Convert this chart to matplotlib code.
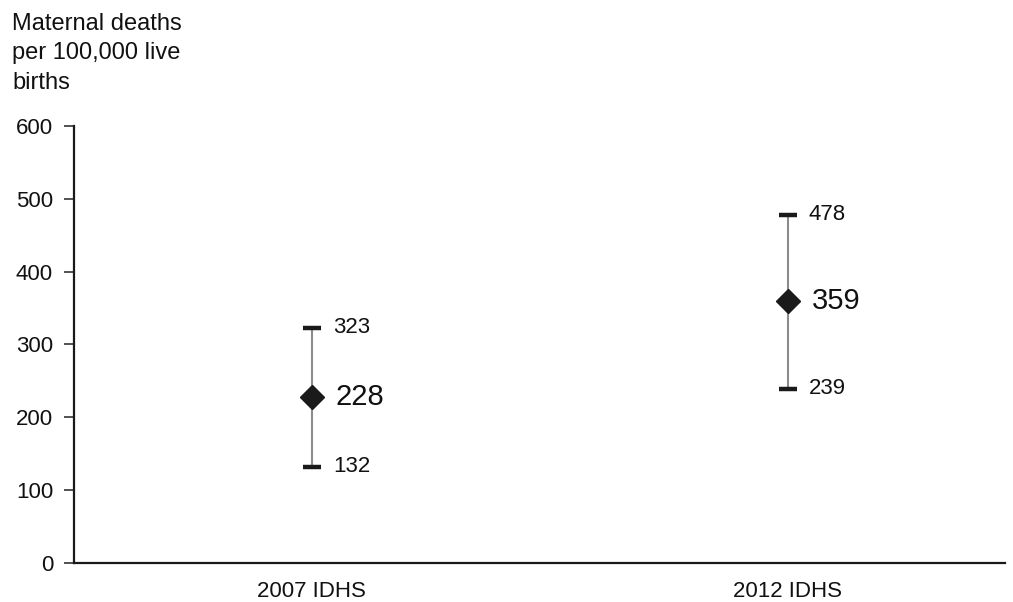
import matplotlib
matplotlib.use("Agg")
import matplotlib.pyplot as plt

plt.rcParams['font.family'] = ['Liberation Sans', 'DejaVu Sans']

surveys = ["2007 IDHS", "2012 IDHS"]
mmr = [228, 359]
lower = [132, 239]
upper = [323, 478]
yticks = [0, 100, 200, 300, 400, 500, 600]

fig = plt.figure(figsize=(10.13, 6.02), dpi=100)
ax = fig.add_axes([0.073, 0.065, 0.919, 0.726])

x = list(range(len(surveys)))
for xi, m, lo, hi in zip(x, mmr, lower, upper):
    ax.plot([xi, xi], [lo, hi], color="#8c8c8c", lw=1.5, zorder=1)
    ax.plot([xi - 0.019, xi + 0.019], [hi, hi], color="#1a1a1a", lw=3.2, solid_capstyle="butt", zorder=2)
    ax.plot([xi - 0.019, xi + 0.019], [lo, lo], color="#1a1a1a", lw=3.2, solid_capstyle="butt", zorder=2)
    ax.plot([xi], [m], marker="D", ms=12, color="#1a1a1a", zorder=3)
    ax.annotate(str(hi), (xi, hi), xytext=(15, 0), textcoords="offset points",
                va="center", ha="left", fontsize=16, color="#111111")
    ax.annotate(str(lo), (xi, lo), xytext=(15, 0), textcoords="offset points",
                va="center", ha="left", fontsize=16, color="#111111")
    ax.annotate(str(m), (xi, m), xytext=(17, 0), textcoords="offset points",
                va="center", ha="left", fontsize=21, color="#111111")

ax.set_xlim(-0.5, 1.456)
ax.set_ylim(0, 600)
ax.set_yticks(yticks)
ax.set_yticklabels([str(t) for t in yticks], fontsize=16, color="#111111")
ax.set_xticks(x)
ax.set_xticklabels(surveys, fontsize=16, color="#111111")
ax.tick_params(axis="x", length=0, pad=13)
ax.tick_params(axis="y", length=7, width=1.2, color="#333333", pad=8)
for side in ("top", "right"):
    ax.spines[side].set_visible(False)
for side in ("left", "bottom"):
    ax.spines[side].set_linewidth(1.6)
    ax.spines[side].set_color("#1a1a1a")

fig.text(0.012, 0.979, "Maternal deaths\nper 100,000 live\nbirths", ha="left", va="top",
         fontsize=17, color="#111111", linespacing=1.45)

fig.savefig("out.png", dpi=100)
